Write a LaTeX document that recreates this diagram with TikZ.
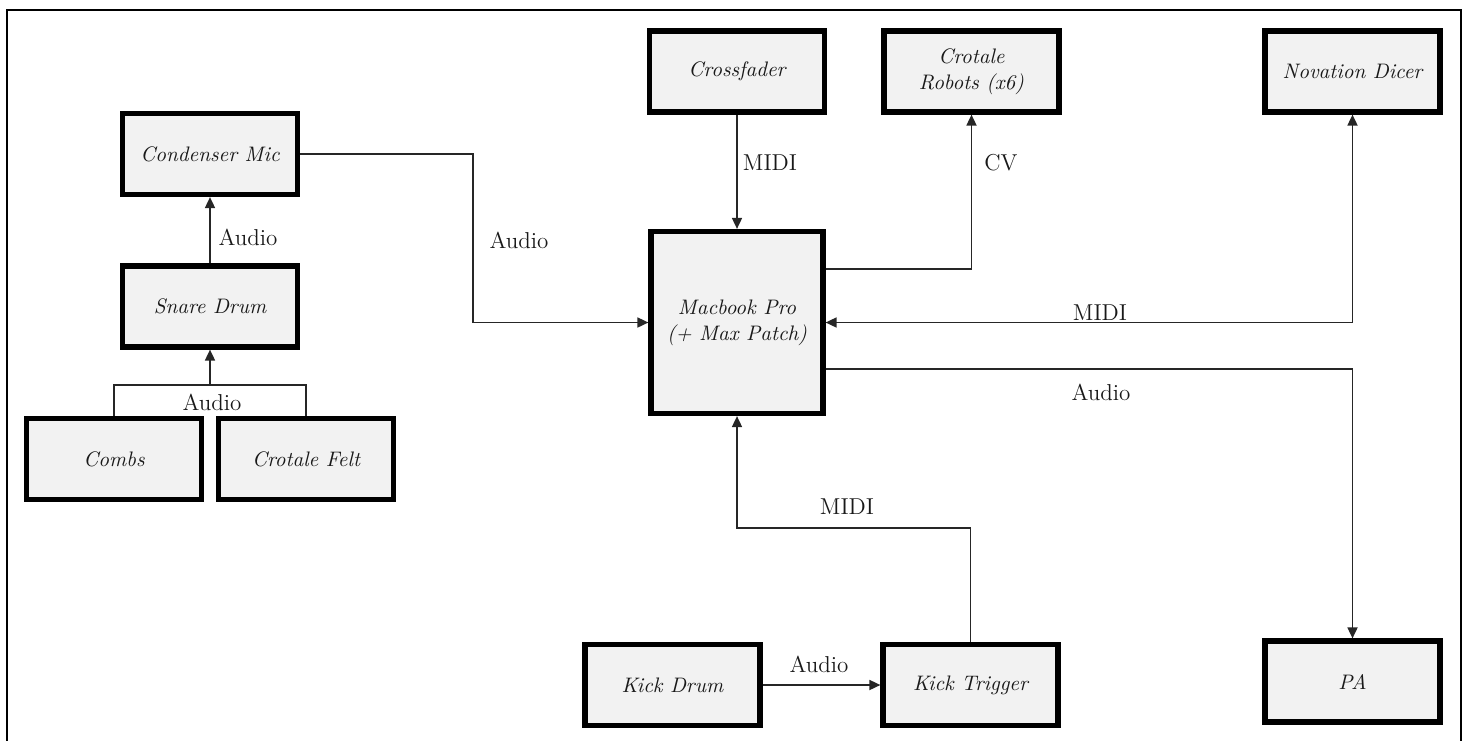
\documentclass[tikz,border=0pt]{standalone}
\usetikzlibrary{arrows.meta}
\begin{document}
\begin{tikzpicture}[x=0.5pt,y=-0.5pt,
  box/.style={draw=black,line width=2.6pt,fill=black!5,minimum width=87.5pt,minimum height=40.5pt,
    inner sep=2pt,align=center,font=\fontsize{10.5}{13}\selectfont\itshape,text=black!90},
  conn/.style={draw=black!85,line width=0.85pt},
  arr/.style={conn,-{Triangle[length=5.5pt,width=5pt]}},
  barr/.style={conn,{Triangle[length=5.5pt,width=5pt]}-{Triangle[length=5.5pt,width=5pt]}},
  lbl/.style={font=\fontsize{11.5}{13}\selectfont,text=black!90,inner sep=0pt}]
\useasboundingbox (0,0) rectangle (1468,740);
\draw[line width=1pt] (7,741) -- (7,10) -- (1461,10) -- (1461,741);
% nodes
\node[box] (cond) at (210,154) {Condenser Mic};
\node[box] (snare) at (210,306.5) {Snare Drum};
\node[box] (combs) at (114,459) {Combs};
\node[box] (felt) at (306,459) {Crotale Felt};
\node[box] (cross) at (737,71.5) {Crossfader};
\node[box] (robots) at (971.5,71.5) {Crotale\\Robots (x6)};
\node[box] (dicer) at (1352.5,71.5) {Novation Dicer};
\node[box,minimum width=86pt,minimum height=91pt] (mac) at (737,322.5) {Macbook Pro\\(+ Max Patch)};
\node[box] (kick) at (672.5,685) {Kick Drum};
\node[box] (trig) at (970.5,685) {Kick Trigger};
\node[box] (pa) at (1352.5,681.5) {PA};
% coordinates
\coordinate (jn) at (210,385);
\coordinate (c1) at (473,154);
\coordinate (cvy) at (825,269);
\coordinate (pay) at (825,369);
\coordinate (ky) at (971,528);
% connectors
\draw[arr] (snare.north) -- (cond.south);
\draw[conn] (combs.north) -- (combs.north |- jn) -- (felt.north |- jn) -- (felt.north);
\draw[arr] (jn) -- (snare.south);
\draw[arr] (cond.east) -- (c1) |- (mac.west);
\draw[arr] (cross.south) -- (mac.north);
\draw[arr] (mac.east |- cvy) -| (robots.south);
\draw[barr] (dicer.south) |- (mac.east);
\draw[arr] (mac.east |- pay) -| (pa.north);
\draw[arr] (trig.north) -- (trig.north |- ky) -| (mac.south);
\draw[arr] (kick.east) -- (trig.west);
% labels
\node[lbl] (l1) at (248,237) {Audio};
\node[lbl] (l2) at (212,402) {Audio};
\node[lbl] (l3) at (519,240) {Audio};
\node[lbl] (l4) at (770,163) {MIDI};
\node[lbl] (l5) at (1001,163) {CV};
\node[lbl] (l6) at (1100,313) {MIDI};
\node[lbl] (l7) at (1101,392) {Audio};
\node[lbl] (l8) at (847,507) {MIDI};
\node[lbl] (l9) at (819,664) {Audio};
\end{tikzpicture}
\end{document}
